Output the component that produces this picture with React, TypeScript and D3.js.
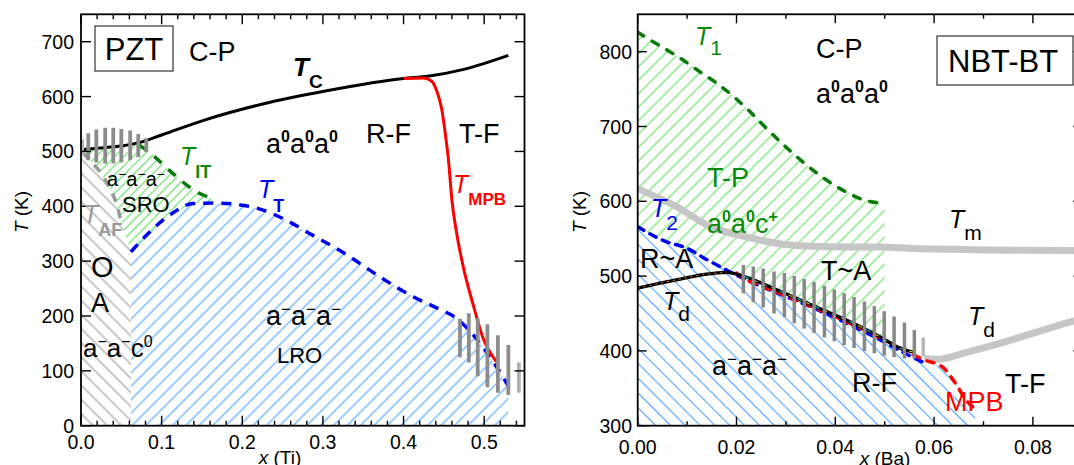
import React from 'react';
import * as d3 from 'd3';

const FONT = "'Liberation Sans', Arial, Helvetica, sans-serif";

// ---------------- PZT panel data ----------------
const pztXTicks = [0, 0.1, 0.2, 0.3, 0.4, 0.5];
const pztXTickLabels = ['0.0', '0.1', '0.2', '0.3', '0.4', '0.5'];
const pztYTicks = [0, 100, 200, 300, 400, 500, 600, 700];
const pztYTickLabels = ['0', '100', '200', '300', '400', '500', '600', '700'];

const pztTc = [[0, 503], [0.02, 506], [0.05, 510], [0.072, 516], [0.1, 530], [0.155, 558], [0.224, 586], [0.306, 611], [0.4, 633], [0.43, 637], [0.476, 650], [0.53, 675]];
const pztTmpb = [[0.4, 633], [0.425, 634], [0.435, 628], [0.441, 611], [0.447, 580], [0.452, 530], [0.456, 480], [0.46, 411], [0.466, 350], [0.474, 290], [0.487, 217], [0.498, 162], [0.515, 117]];
const pztTit = [[0.072, 512], [0.09, 492], [0.11, 465], [0.13, 440], [0.145, 425], [0.16, 416]];
const pztTt = [[0.062, 317], [0.083, 350], [0.113, 387], [0.139, 405], [0.165, 406], [0.2, 402], [0.224, 394], [0.254, 375], [0.284, 350], [0.327, 314], [0.37, 272], [0.412, 235], [0.438, 217], [0.468, 193], [0.498, 144], [0.515, 108], [0.53, 72]];
const pztTaf = [[0.002, 498], [0.012, 482], [0.024, 462], [0.036, 432], [0.045, 400], [0.05, 370]];

const pztBarsAx = [0.0, 0.009, 0.019, 0.03, 0.04, 0.05, 0.061, 0.071, 0.081];
const pztBarsAlo = [492, 484, 480, 478, 478, 480, 484, 490, 499];
const pztBarsAhi = [522, 533, 540, 543, 543, 541, 538, 532, 524];
const pztBarsBx = [0.47, 0.481, 0.492, 0.504, 0.517, 0.53, 0.543];
const pztBarsBlo = [125, 115, 90, 70, 60, 56, 60];
const pztBarsBhi = [195, 205, 196, 185, 165, 147, 115];

// ---------------- NBT-BT panel data ----------------
const nbtXTicks = [0, 0.02, 0.04, 0.06, 0.08];
const nbtXTickLabels = ['0.00', '0.02', '0.04', '0.06', '0.08'];
const nbtYTicks = [300, 400, 500, 600, 700, 800];
const nbtYTickLabels = ['300', '400', '500', '600', '700', '800'];

const nbtT1 = [[0, 826], [0.0032, 813], [0.0065, 800], [0.0096, 787], [0.0126, 773], [0.016, 758], [0.0194, 740], [0.0224, 722], [0.0257, 700], [0.0306, 669], [0.0354, 642], [0.0402, 620], [0.0457, 602], [0.05, 597]];
const nbtT2 = [[0, 566], [0.005, 548], [0.01, 537], [0.014, 522], [0.018, 508], [0.0216, 496], [0.028, 478], [0.035, 459], [0.042, 438], [0.049, 415], [0.054, 397], [0.058, 384]];
const nbtTd = [[0, 484], [0.0078, 495], [0.0133, 502], [0.018, 505], [0.0216, 499.5], [0.028, 482], [0.035, 462], [0.042, 442], [0.049, 419], [0.053, 404], [0.056, 398]];
const nbtMpb = [[0.02, 504], [0.0216, 497], [0.028, 479], [0.035, 460], [0.042, 440], [0.049, 418], [0.054, 401], [0.058, 388], [0.0616, 379], [0.0643, 357], [0.0664, 335], [0.068, 324]];
const nbtTm = [[0, 617], [0.0078, 593], [0.0147, 566], [0.0216, 553], [0.028, 544], [0.035, 540], [0.042, 539], [0.049, 539], [0.056, 537], [0.063, 536], [0.07, 535], [0.09, 534]];
const nbtTdGrey = [[0.058, 390], [0.061, 389], [0.066, 397], [0.0733, 410], [0.0802, 424], [0.0878, 439], [0.09, 443]];
const nbtBarsX = [0.0214, 0.0234, 0.0254, 0.0276, 0.0297, 0.0317, 0.0337, 0.0357, 0.0378, 0.0398, 0.0418, 0.0438, 0.0459, 0.0479, 0.0499, 0.0519, 0.054, 0.056, 0.0578];
const nbtBarsLo = [477, 465, 458, 450, 445, 437, 430, 424, 418, 413, 408, 404, 400, 397, 394, 392, 390, 390, 393];
const nbtBarsHi = [515, 513, 510, 506, 504, 500, 496, 492, 487, 482, 477, 472, 466, 460, 453, 446, 438, 428, 418];

// ---------------- helpers ----------------
function Frame({ xs, ys, xMajor, xMinor, yMajor, xLabels, yLabels, xLabelY, yLabelX, majLen, minLen }) {
  const [x0, x1] = xs.range();
  const [y1, y0] = ys.range();
  return (
    <g>
      {xMinor.map((v, i) => (
        <g key={'xm' + i}>
          <line x1={xs(v)} x2={xs(v)} y1={y1} y2={y1 - minLen} stroke="#000" strokeWidth={1.4} />
          <line x1={xs(v)} x2={xs(v)} y1={y0} y2={y0 + minLen} stroke="#000" strokeWidth={1.4} />
        </g>
      ))}
      {xMajor.map((v, i) => (
        <g key={'xM' + i}>
          <line x1={xs(v)} x2={xs(v)} y1={y1} y2={y1 - majLen} stroke="#000" strokeWidth={1.4} />
          <line x1={xs(v)} x2={xs(v)} y1={y0} y2={y0 + majLen} stroke="#000" strokeWidth={1.4} />
          <text x={xs(v)} y={xLabelY} textAnchor="middle" fontSize={19.5} fontFamily={FONT}>{xLabels[i]}</text>
        </g>
      ))}
      {yMajor.map((v, i) => (
        <g key={'yM' + i}>
          <line x1={x0} x2={x0 + majLen} y1={ys(v)} y2={ys(v)} stroke="#000" strokeWidth={1.4} />
          <line x1={x1} x2={x1 - majLen} y1={ys(v)} y2={ys(v)} stroke="#000" strokeWidth={1.4} />
          <text x={yLabelX} y={ys(v) + 7} textAnchor="end" fontSize={19.5} fontFamily={FONT}>{yLabels[i]}</text>
        </g>
      ))}
      <rect x={x0} y={y0} width={x1 - x0} height={y1 - y0} fill="none" stroke="#000" strokeWidth={1.8} />
    </g>
  );
}

function SubLabel({ x, y, main, sub, size = 25, subSize = 19, dy = 12, color = '#000', mainBold = false, subBold = false, subItalic = false }) {
  return (
    <text x={x} y={y} fill={color} fontFamily={FONT}>
      <tspan fontSize={size} fontStyle="italic" fontWeight={mainBold ? 'bold' : 'normal'}>{main}</tspan>
      <tspan fontSize={subSize} dy={dy} fontWeight={subBold ? 'bold' : 'normal'} fontStyle={subItalic ? 'italic' : 'normal'}>{sub}</tspan>
    </text>
  );
}

function SupText({ x, y, parts, size = 27, supSize = 16, rise = 11, color = '#000', supBold = true }) {
  const spans = [];
  parts.forEach((p, i) => {
    spans.push(<tspan key={'b' + i} fontSize={size} dy={i === 0 ? 0 : rise}>{p[0]}</tspan>);
    spans.push(<tspan key={'s' + i} fontSize={supSize} fontWeight={supBold ? 'bold' : 'normal'} dy={-rise}>{p[1]}</tspan>);
  });
  return <text x={x} y={y} fill={color} fontFamily={FONT}>{spans}</text>;
}

function Txt({ x, y, size = 27, color = '#000', children, anchor = 'start', weight = 'normal' }) {
  return <text x={x} y={y} fontSize={size} fill={color} fontFamily={FONT} textAnchor={anchor} fontWeight={weight}>{children}</text>;
}

const M = '\u2212';

export default function App() {
  const xL = d3.scaleLinear().domain([0, 0.55]).range([81, 524.5]);
  const yL = d3.scaleLinear().domain([0, 750]).range([425.7, 14.3]);
  const xR = d3.scaleLinear().domain([0, 0.09]).range([637.7, 1082.3]);
  const yR = d3.scaleLinear().domain([300, 850]).range([425.7, 14.3]);

  const curveL = d3.line().x(d => xL(d[0])).y(d => yL(d[1])).curve(d3.curveMonotoneX);
  const polyL = d3.line().x(d => xL(d[0])).y(d => yL(d[1]));
  const curveR = d3.line().x(d => xR(d[0])).y(d => yR(d[1])).curve(d3.curveMonotoneX);
  const polyR = d3.line().x(d => xR(d[0])).y(d => yR(d[1]));

  // PZT regions
  const pztGreyPoly = [[0, 0], [0, 500], ...pztTaf, [0.062, 317], [0.062, 0]];
  const pztGreenPoly = [
    ...pztTc.filter(d => d[0] <= 0.072),
    ...pztTit,
    ...pztTt.filter(d => d[0] <= 0.165).slice().reverse(),
    ...pztTaf.slice().reverse(),
  ];
  const pztBluePoly = [...pztTt, [0.53, 0], [0.062, 0]];

  // NBT regions
  const nbtGreenPoly = [
    ...nbtT1,
    [0.05, 418],
    ...nbtTd.filter(d => d[0] >= 0.0216 && d[0] <= 0.049).slice().reverse(),
    ...nbtT2.filter(d => d[0] <= 0.018).slice().reverse(),
  ];
  const nbtBluePoly = [...nbtT2, ...nbtMpb.filter(d => d[0] > 0.058), [0.0685, 300], [0, 300]];

  const xMinorL = d3.range(0, 0.551, 0.02).filter(v => Math.abs(v * 10 - Math.round(v * 10)) > 1e-6);
  const xMinorR = d3.range(0.01, 0.091, 0.02);

  return (
    <svg width={1074} height={465} style={{ position: 'absolute', left: 0, top: 0, background: '#fff' }} fontFamily={FONT}>
      <defs>
        <pattern id="hBlueL" patternUnits="userSpaceOnUse" width={9.5} height={9.5} patternTransform="rotate(-45)">
          <line x1={0} y1={4.75} x2={9.5} y2={4.75} stroke="#4aa3ff" strokeWidth={1.1} />
        </pattern>
        <pattern id="hGreyL" patternUnits="userSpaceOnUse" width={10} height={10} patternTransform="rotate(45)">
          <line x1={0} y1={5} x2={10} y2={5} stroke="#9a9a9a" strokeWidth={1.1} />
        </pattern>
        <pattern id="hGreenL" patternUnits="userSpaceOnUse" width={6.5} height={6.5} patternTransform="rotate(-45)">
          <line x1={0} y1={3.25} x2={6.5} y2={3.25} stroke="#5fe05f" strokeWidth={1.1} />
        </pattern>
        <pattern id="hBlueR" patternUnits="userSpaceOnUse" width={10.5} height={10.5} patternTransform="rotate(45)">
          <line x1={0} y1={5.25} x2={10.5} y2={5.25} stroke="#4aa3ff" strokeWidth={1.1} />
        </pattern>
        <pattern id="hGreenR" patternUnits="userSpaceOnUse" width={9.5} height={9.5} patternTransform="rotate(-45)">
          <line x1={0} y1={4.75} x2={9.5} y2={4.75} stroke="#5fe05f" strokeWidth={1.1} />
        </pattern>
        <clipPath id="clipL"><rect x={81} y={14.3} width={443.5} height={411.4} /></clipPath>
        <clipPath id="clipR"><rect x={637.7} y={14.3} width={444.6} height={411.4} /></clipPath>
      </defs>

      {/* ================= PZT panel ================= */}
      <g clipPath="url(#clipL)">
        <path d={polyL(pztGreyPoly) + 'Z'} fill="url(#hGreyL)" />
        <path d={polyL(pztGreenPoly) + 'Z'} fill="url(#hGreenL)" />
        <path d={polyL(pztBluePoly) + 'Z'} fill="url(#hBlueL)" />
        <path d={curveL(pztTaf)} fill="none" stroke="#999" strokeWidth={3.5} strokeDasharray="9 8" />
        <path d={curveL(pztTit)} fill="none" stroke="#0a7a0a" strokeWidth={3.5} strokeDasharray="10 9" />
        <path d={curveL(pztTt)} fill="none" stroke="#0000ee" strokeWidth={3.5} strokeDasharray="10 8" />
        <path d={curveL(pztTc)} fill="none" stroke="#000" strokeWidth={3} />
        <path d={curveL(pztTmpb)} fill="none" stroke="#ff0000" strokeWidth={3} />
        {pztBarsAx.map((v, i) => (
          <line key={'ba' + i} x1={xL(v)} x2={xL(v)} y1={yL(pztBarsAlo[i])} y2={yL(pztBarsAhi[i])}
            stroke={i === 0 ? '#b5b5b5' : '#8c8c8c'} strokeWidth={i === 0 ? 6 : 3.8} />
        ))}
        {pztBarsBx.map((v, i) => (
          <line key={'bb' + i} x1={xL(v)} x2={xL(v)} y1={yL(pztBarsBlo[i])} y2={yL(pztBarsBhi[i])}
            stroke={i === pztBarsBx.length - 1 ? '#b0b0b0' : '#8c8c8c'} strokeWidth={3.8} />
        ))}
      </g>
      <Frame xs={xL} ys={yL} xMajor={pztXTicks} xMinor={xMinorL} yMajor={pztYTicks}
        xLabels={pztXTickLabels} yLabels={pztYTickLabels} xLabelY={448.5} yLabelX={74} majLen={10} minLen={5} />

      <rect x={95} y={26} width={78} height={45} fill="#fff" stroke="#333" strokeWidth={1.2} />
      <Txt x={134} y={60} size={31} anchor="middle">PZT</Txt>
      <Txt x={189} y={61}>C-P</Txt>
      <SubLabel x={293} y={76} main="T" sub="C" size={26} subSize={19} dy={12} mainBold subBold />
      <SupText x={266} y={153} parts={[['a', '0'], ['a', '0'], ['a', '0']]} />
      <Txt x={366} y={143}>R-F</Txt>
      <Txt x={459} y={143}>T-F</Txt>
      <SubLabel x={180} y={165} main="T" sub="IT" color="#0a8a0a" subBold dy={13} subSize={18} />
      <SubLabel x={258} y={198} main="T" sub="T" color="#0000ee" subBold dy={14} subSize={18} />
      <SubLabel x={453} y={193} main="T" sub="MPB" color="#ff0000" subBold dy={12} subSize={17} />
      <SupText x={107} y={186} parts={[['a', M], ['a', M], ['a', M]]} size={20} supSize={14} rise={7} supBold={false} />
      <Txt x={122} y={212} size={22}>SRO</Txt>
      <SubLabel x={83} y={223} main="T" sub="AF" color="#999" subBold dy={13} subSize={18} />
      <Txt x={91} y={277} size={29}>O</Txt>
      <Txt x={91} y={312} size={27}>A</Txt>
      <SupText x={83} y={357} parts={[['a', M], ['a', M], ['c', '0']]} size={26} supSize={16} rise={10} supBold={false} />
      <SupText x={266} y={325} parts={[['a', M], ['a', M], ['a', M]]} size={27} supSize={17} rise={10} supBold={false} />
      <Txt x={277} y={363} size={22}>LRO</Txt>

      <text x={22} y={212} transform="rotate(-90 22 212)" textAnchor="middle" fontSize={19} fontFamily={FONT} dy={6}>
        <tspan fontStyle="italic">T</tspan> (K)
      </text>
      <text x={280} y={464} textAnchor="middle" fontSize={19} fontFamily={FONT}>
        <tspan fontStyle="italic">x</tspan> (Ti)
      </text>

      {/* ================= NBT-BT panel ================= */}
      <g clipPath="url(#clipR)">
        <path d={polyR(nbtGreenPoly) + 'Z'} fill="url(#hGreenR)" />
        <path d={polyR(nbtBluePoly) + 'Z'} fill="url(#hBlueR)" />
        <path d={curveR(nbtTm)} fill="none" stroke="#c6c6c6" strokeWidth={7} />
        <path d={curveR(nbtTdGrey)} fill="none" stroke="#c6c6c6" strokeWidth={7} />
        <path d={curveR(nbtT1)} fill="none" stroke="#0a7a0a" strokeWidth={3.5} strokeDasharray="7 10" strokeLinecap="round" />
        <path d={curveR(nbtT2)} fill="none" stroke="#0000ee" strokeWidth={3.5} strokeDasharray="7 7" strokeLinecap="round" />
        <path d={curveR(nbtMpb)} fill="none" stroke="#ff0000" strokeWidth={3.5} strokeDasharray="7 8" strokeLinecap="round" />
        <path d={curveR(nbtTd)} fill="none" stroke="#000" strokeWidth={3.2} />
        <path d={curveR(nbtTd.filter(d => d[0] <= 0.02))} fill="none" stroke="#e08a2a" strokeWidth={1} strokeDasharray="2 4" />
        <path d={curveR(nbtTd.filter(d => d[0] >= 0.02))} fill="none" stroke="#00e0e0" strokeWidth={1} strokeDasharray="5 14" />
        <path d={curveR(nbtTd.filter(d => d[0] >= 0.02))} fill="none" stroke="#f0e000" strokeWidth={1} strokeDasharray="4 15" strokeDashoffset={9} />
        {nbtBarsX.map((v, i) => (
          <line key={'bn' + i} x1={xR(v)} x2={xR(v)} y1={yR(nbtBarsLo[i])} y2={yR(nbtBarsHi[i])}
            stroke={i === nbtBarsX.length - 1 ? '#b5b5b5' : '#888'} strokeWidth={3.5} />
        ))}
      </g>
      <Frame xs={xR} ys={yR} xMajor={nbtXTicks} xMinor={xMinorR} yMajor={nbtYTicks}
        xLabels={nbtXTickLabels} yLabels={nbtYTickLabels} xLabelY={454} yLabelX={632} majLen={9} minLen={4.5} />

      <rect x={937} y={36} width={136} height={49} fill="#fff" stroke="#333" strokeWidth={1.2} />
      <Txt x={948} y={72} size={31}>NBT-BT</Txt>
      <SubLabel x={695} y={45} main="T" sub="1" color="#0a8a0a" dy={10} subSize={21} />
      <Txt x={816} y={58}>C-P</Txt>
      <SupText x={816} y={103} parts={[['a', '0'], ['a', '0'], ['a', '0']]} />
      <Txt x={707} y={187} color="#0a8a0a">T-P</Txt>
      <SupText x={707} y={233} parts={[['a', '0'], ['a', '0'], ['c', '+']]} color="#0a8a0a" />
      <SubLabel x={949} y={228} main="T" sub="m" dy={12} subSize={21} />
      <SubLabel x={651} y={217} main="T" sub="2" color="#0000ee" dy={13} subSize={21} />
      <Txt x={640} y={268}>R~A</Txt>
      <Txt x={821} y={280}>T~A</Txt>
      <SubLabel x={663} y={310} main="T" sub="d" dy={11} subSize={21} />
      <SubLabel x={968} y={325} main="T" sub="d" dy={12} subSize={21} />
      <SupText x={712} y={375} parts={[['a', M], ['a', M], ['a', M]]} size={27} supSize={17} rise={10} supBold={false} />
      <Txt x={852} y={392}>R-F</Txt>
      <Txt x={945} y={411} color="#ff0000">MPB</Txt>
      <Txt x={1005} y={393}>T-F</Txt>

      <text x={580} y={212} transform="rotate(-90 580 212)" textAnchor="middle" fontSize={19} fontFamily={FONT} dy={6}>
        <tspan fontStyle="italic">T</tspan> (K)
      </text>
      <text x={885} y={465} textAnchor="middle" fontSize={19} fontFamily={FONT}>
        <tspan fontStyle="italic">x</tspan> (Ba)
      </text>
    </svg>
  );
}
